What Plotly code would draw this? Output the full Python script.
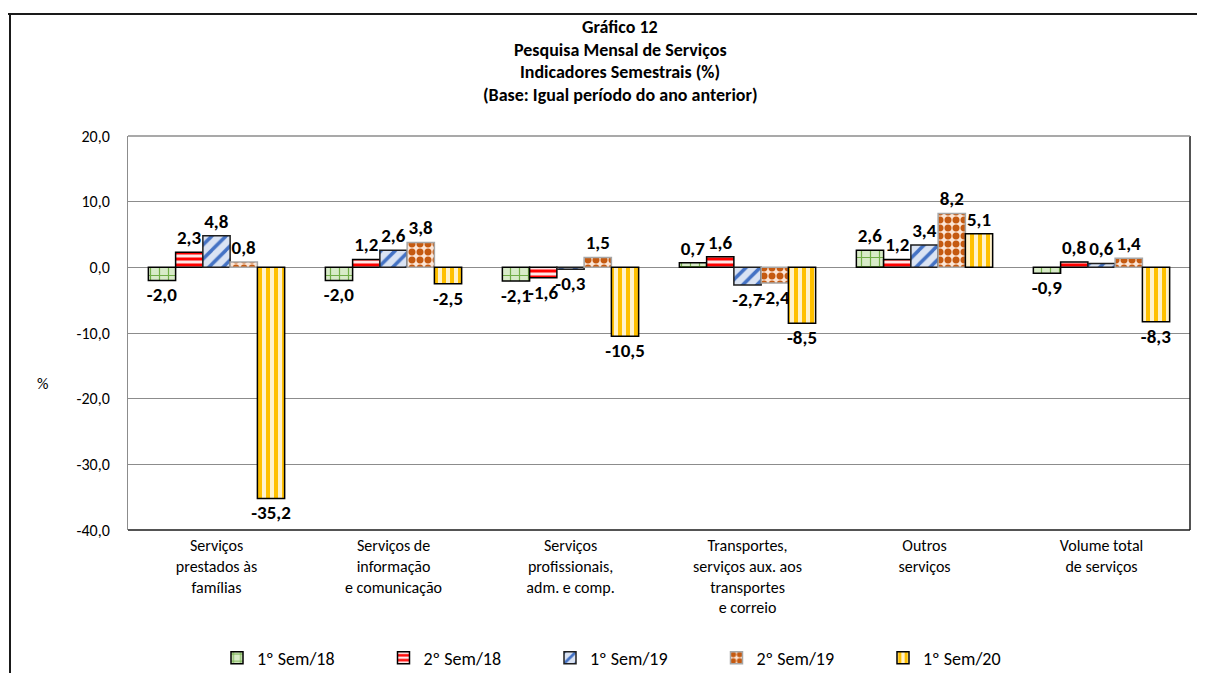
import plotly.graph_objects as go

categories = [
    "Serviços<br>prestados às<br>famílias",
    "Serviços de<br>informação<br>e comunicação",
    "Serviços<br>profissionais,<br>adm. e comp.",
    "Transportes,<br>serviços aux. aos<br>transportes<br>e correio",
    "Outros<br>serviços",
    "Volume total<br>de serviços",
]
series_names = ["1º Sem/18", "2º Sem/18", "1º Sem/19", "2º Sem/19", "1º Sem/20"]
sem1_18 = [-2.0, -2.0, -2.1, 0.7, 2.6, -0.9]
sem2_18 = [2.3, 1.2, -1.6, 1.6, 1.2, 0.8]
sem1_19 = [4.8, 2.6, -0.3, -2.7, 3.4, 0.6]
sem2_19 = [0.8, 3.8, 1.5, -2.4, 8.2, 1.4]
sem1_20 = [-35.2, -2.5, -10.5, -8.5, 5.1, -8.3]
y_ticks = [20, 10, 0, -10, -20, -30, -40]
y_tick_labels = ["20,0", "10,0", "0,0", "-10,0", "-20,0", "-30,0", "-40,0"]
title_lines = [
    "Gráfico 12",
    "Pesquisa Mensal de Serviços",
    "Indicadores Semestrais (%)",
    "(Base: Igual período do ano anterior)",
]

FONT = "Calibri, Carlito, Lato, sans-serif"

styles = [
    dict(shape="+", fg="#70ad47", bg="#d8ebc8", size=9, sol=0.25, line="#000000"),
    dict(shape="-", fg="#ff0000", bg="#ffe6e6", size=6, sol=0.5, line="#000000"),
    dict(shape="/", fg="#4472c4", bg="#dae3f3", size=10, sol=0.35, line="#1f1f1f"),
    dict(shape=".", fg="#c55a11", bg="#fbe5d6", size=8, sol=0.6, line="#a6a6a6"),
    dict(shape="|", fg="#ffc000", bg="#fff2cc", size=8, sol=0.5, line="#000000"),
]
values = [sem1_18, sem2_18, sem1_19, sem2_19, sem1_20]

fig = go.Figure()
for name, vals, st in zip(series_names, values, styles):
    fig.add_trace(go.Bar(
        name=name,
        x=categories,
        y=vals,
        marker=dict(
            color=st["bg"],
            line=dict(color=st["line"], width=1.5),
            pattern=dict(shape=st["shape"], fgcolor=st["fg"], bgcolor=st["bg"],
                         size=st["size"], solidity=st["sol"], fillmode="replace"),
        ),
        texttemplate="%{y:.1f}",
        textposition="outside",
        textfont=dict(family=FONT, size=19, color="#000000", weight="bold"),
        constraintext="none",
        cliponaxis=False,
    ))

# page body has an 8px margin; figure sized to fit the 1205x673 window
OFF = 8
W, H = 1205 - OFF, 673 - OFF
L, R, T, B = 128 - OFF, 15, 136 - OFF, 143
pw, ph = W - L - R, H - T - B

def px_x(p):
    return (p - OFF - L) / pw

def px_y(p):
    return (H - B - (p - OFF)) / ph

annotations = []
for line, py in zip(title_lines, [27, 49.5, 72, 94.5]):
    annotations.append(dict(
        text="<b>" + line + "</b>",
        xref="paper", yref="paper",
        x=px_x(620), y=px_y(py),
        xanchor="center", yanchor="middle",
        showarrow=False,
        font=dict(family=FONT, size=18, color="#000000"),
    ))
annotations.append(dict(
    text="%",
    xref="paper", yref="paper",
    x=px_x(42), y=px_y(383),
    xanchor="center", yanchor="middle",
    showarrow=False,
    font=dict(family=FONT, size=16, color="#000000"),
))

fig.update_layout(
    width=W, height=H,
    margin=dict(l=L, r=R, t=T, b=B, autoexpand=False),
    paper_bgcolor="white",
    plot_bgcolor="white",
    separators=",.",
    barmode="group",
    bargap=0.23,
    bargroupgap=0,
    font=dict(family=FONT, size=14, color="#000000"),
    showlegend=True,
    legend=dict(
        orientation="h",
        x=px_x(217), y=px_y(658),
        xanchor="left", yanchor="middle",
        font=dict(family=FONT, size=18, color="#000000"),
        entrywidth=121.5, entrywidthmode="pixels",
        bgcolor="rgba(0,0,0,0)",
        traceorder="normal",
    ),
    xaxis=dict(
        showgrid=False,
        showline=False,
        ticks="",
        automargin=False,
        tickfont=dict(family=FONT, size=16, color="#000000"),
        ticklabelstandoff=4,
    ),
    yaxis=dict(
        range=[-40, 20],
        tickvals=y_ticks,
        ticktext=y_tick_labels,
        automargin=False,
        showgrid=True,
        gridcolor="#8c8c8c",
        gridwidth=1,
        zeroline=True,
        zerolinecolor="#8c8c8c",
        zerolinewidth=1,
        showline=True,
        linecolor="#8c8c8c",
        linewidth=1,
        ticks="",
        ticklabelstandoff=14,
        tickfont=dict(family=FONT, size=16, color="#000000"),
    ),
    annotations=annotations,
    shapes=[
        dict(type="line", xref="paper", yref="paper",
             x0=px_x(4), x1=px_x(1205), y0=px_y(14), y1=px_y(14),
             line=dict(color="#1a1a1a", width=2)),
        dict(type="line", xref="paper", yref="paper",
             x0=px_x(10), x1=px_x(10), y0=px_y(14), y1=px_y(673),
             line=dict(color="#1a1a1a", width=2)),
        dict(type="line", xref="paper", yref="paper",
             x0=1, x1=1, y0=0, y1=1,
             line=dict(color="#1a1a1a", width=1.5)),
        dict(type="line", xref="paper", yref="paper",
             x0=0, x1=1, y0=0, y1=0,
             line=dict(color="#1a1a1a", width=1.5)),
        dict(type="line", xref="paper", yref="paper",
             x0=0, x1=1, y0=1, y1=1,
             line=dict(color="#8c8c8c", width=1.5)),
    ],
)

fig.write_html("out.html")
